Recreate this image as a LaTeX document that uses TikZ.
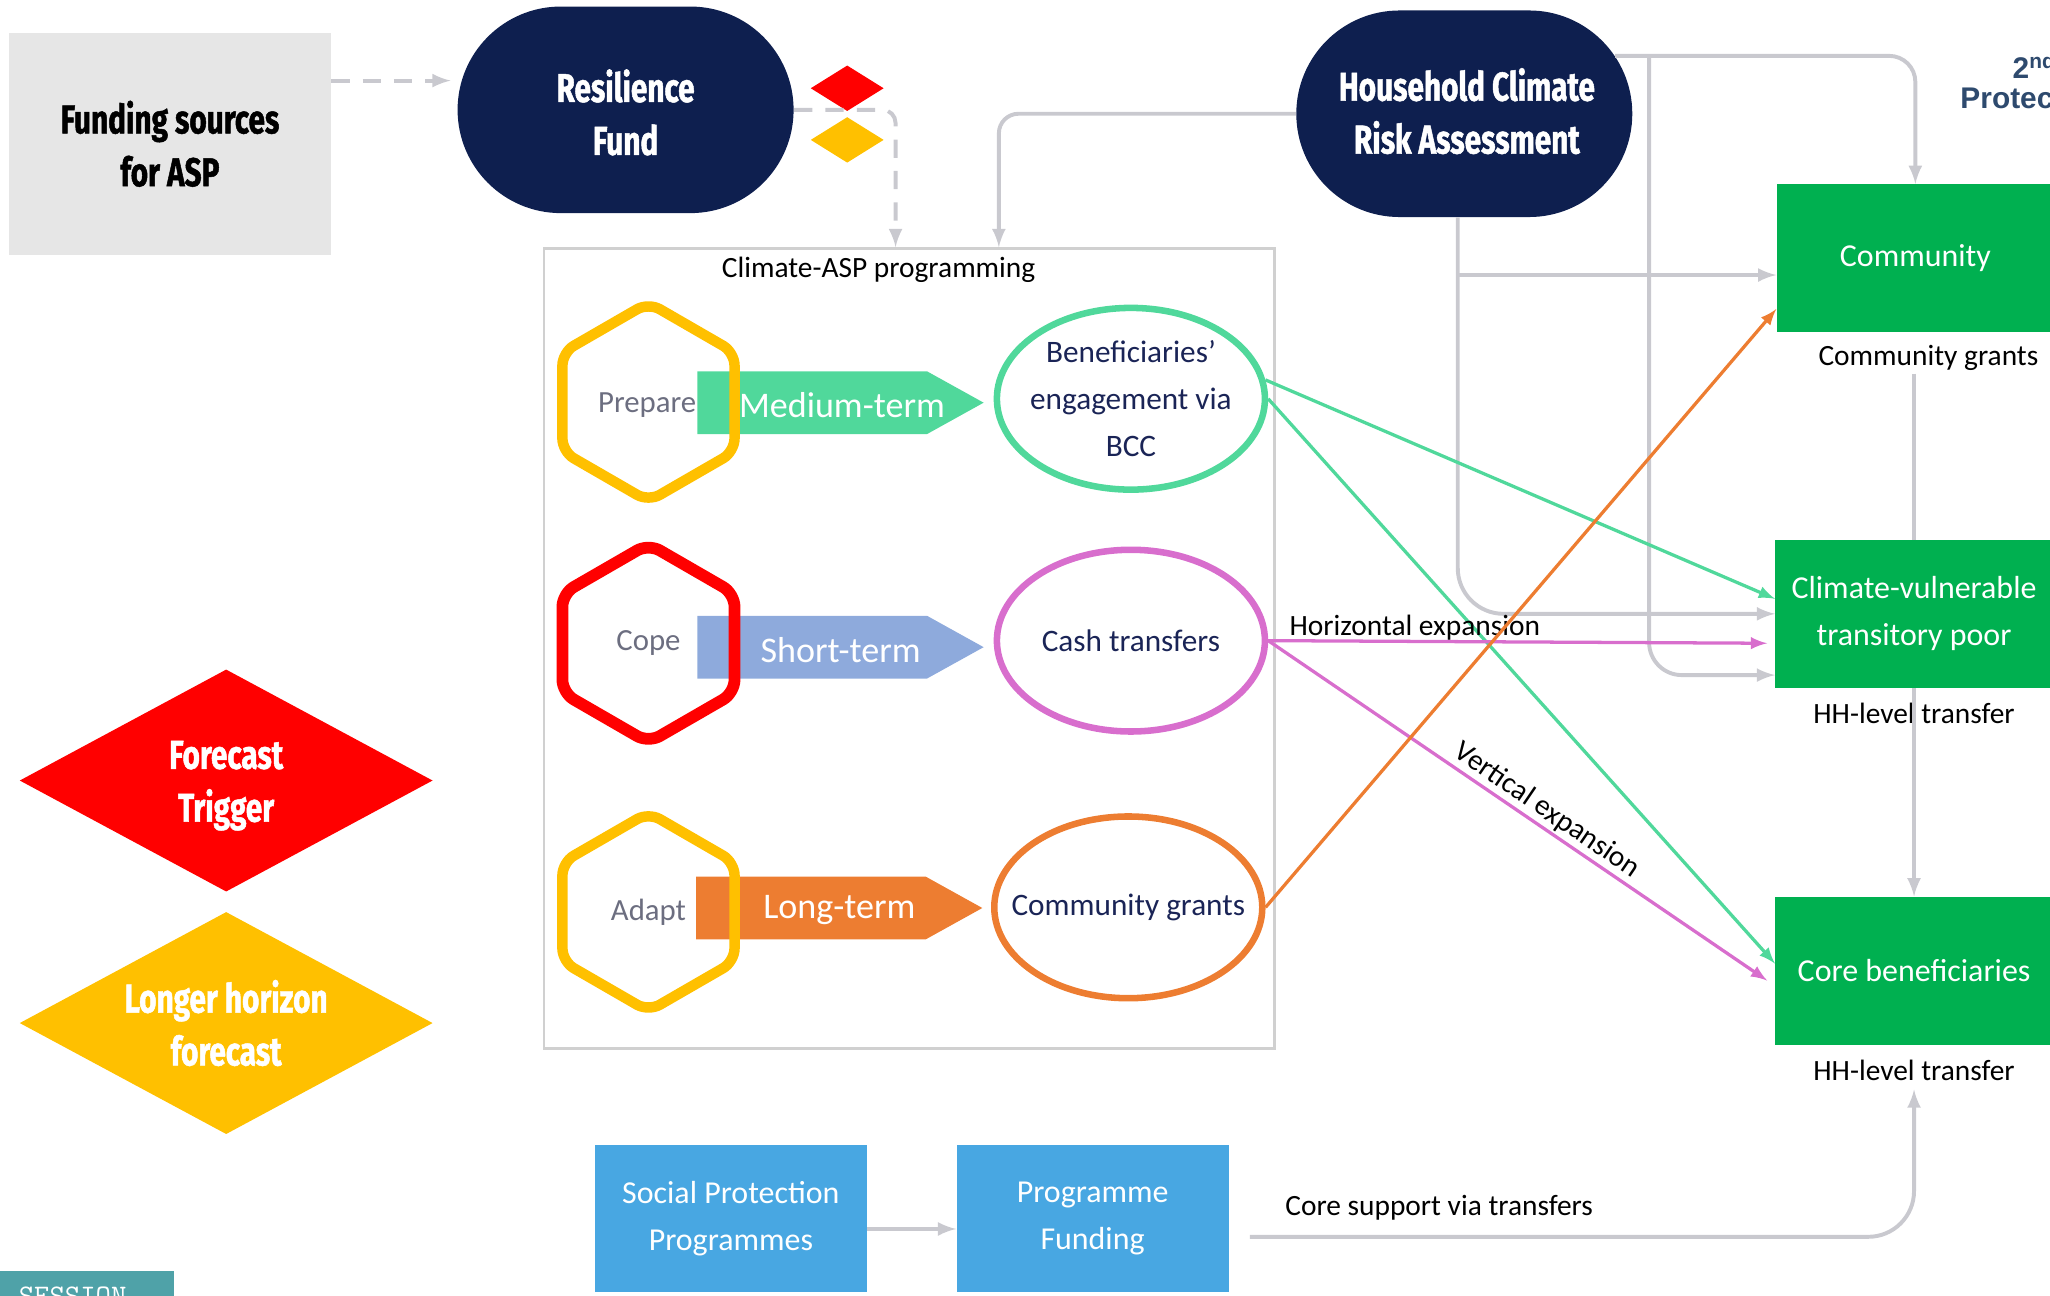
\documentclass[tikz,border=0pt]{standalone}
\usepackage{fontspec}
\setmainfont{Carlito}
\newfontfamily\headfont[FakeStretch=0.74, FakeBold=1.2]{Fira Sans}
\newfontfamily\tierfont{Liberation Sans}
\usetikzlibrary{arrows,positioning,shapes.geometric,shapes.misc,shapes.symbols}

\definecolor{navyfill}{HTML}{0E1F4F}
\definecolor{fundgray}{HTML}{E6E6E6}
\definecolor{linegray}{HTML}{C9C9CF}
\definecolor{framegray}{HTML}{D0D0D0}
\definecolor{mintgreen}{HTML}{50D89B}
\definecolor{shortblue}{HTML}{8EAADC}
\definecolor{longorange}{HTML}{ED7D31}
\definecolor{orchidpink}{HTML}{D86ECD}
\definecolor{amber}{HTML}{FFC000}
\definecolor{boxgreen}{HTML}{00B050}
\definecolor{boxblue}{HTML}{48A7E2}
\definecolor{ovaltext}{HTML}{1A2456}
\definecolor{hextext}{HTML}{6C6E80}
\definecolor{sessionteal}{HTML}{4FA2A8}
\definecolor{tierblue}{HTML}{2E4A6E}

\begin{document}
\begin{tikzpicture}[x=0.2mm, y=-0.2mm, >=latex,
  head/.style={font=\headfont\bfseries\fontsize{17.5}{23}\selectfont,
               text=white, align=center},
  pill/.style={rounded rectangle, fill=navyfill,
               minimum width=51.4mm, minimum height=31.6mm, inner sep=0pt},
  hexa/.style={regular polygon, regular polygon sides=6,
               shape border rotate=30, minimum size=30.4mm,
               line width=1.6mm, rounded corners=2mm, text=hextext,
               font=\fontsize{13.4}{16}\selectfont},
  oval/.style={ellipse, line width=1mm, minimum width=41mm,
               minimum height=27.8mm, inner sep=0pt},
  ovaltxt/.style={text=ovaltext, align=center,
               font=\fontsize{13.6}{20.5}\selectfont},
  term/.style={signal, signal to=east, signal pointer angle=58,
               minimum width=43.8mm, minimum height=9.6mm, inner sep=0pt,
               anchor=west},
  termtxt/.style={text=white, font=\fontsize{15.7}{18}\selectfont},
  greenbox/.style={rectangle, fill=boxgreen, text=white, align=center,
               minimum width=42.4mm, minimum height=22.6mm,
               font=\fontsize{13.9}{20.5}\selectfont},
  bluebox/.style={rectangle, fill=boxblue, text=white, align=center,
               minimum width=41.6mm, minimum height=22.4mm,
               font=\fontsize{13.9}{20.5}\selectfont},
  lbl/.style={text=black, inner sep=1pt, font=\fontsize{12.8}{15}\selectfont},
  conn/.style={draw=linegray, line width=0.6mm},
  flow/.style={line width=0.5mm}]

 \useasboundingbox (0,0) rectangle (1568,991);

 % Funding side
 \node[fill=fundgray,
       minimum width=49.2mm,
       minimum height=34mm,
       head, text=black] (fund) at (130,110) {Funding sources\\for ASP};
 \node[pill] (res) at (478.5,84) {};
 \node[head] (res text) at (478.5,86) {Resilience\\Fund};
 \node[diamond, fill=red, minimum width=11.2mm,
       minimum height=7mm, inner sep=0pt] (res red) at (648,67.5) {};
 \node[diamond, fill=amber, minimum width=11.2mm,
       minimum height=7mm, inner sep=0pt] (res amber) at (648,107) {};

 % Assessment
 \node[pill] (hcra) at (1120,87) {};
 \node[head] (hcra text) at (1122,85) {Household Climate\\Risk Assessment};

 % Programming frame
 \node[draw=framegray,
       line width=0.4mm,
       minimum width=111.8mm,
       minimum height=122.4mm] (prog) at (695.5,496) {};
 \node[lbl] (prog title) at (672,206) {Climate-ASP programming};

 % Rows: phase, term, instrument
 \node[term, fill=mintgreen] (medium) at (533,308) {};
 \node[termtxt] (medium text) at (644,310) {Medium-term};
 \node[hexa, draw=amber] (prepare) at (496,307.5) {};
 \node[text=hextext, font=\fontsize{13.4}{16}\selectfont] (prepare text) at (495,310) {Prepare};
 \node[oval, draw=mintgreen] (ben) at (865,305) {};
 \node[ovaltxt] (ben text) at (ben) {Beneficiaries’\\engagement via\\BCC};

 \node[term, fill=shortblue] (short) at (533,495) {};
 \node[termtxt] (short text) at (643,497) {Short-term};
 \node[hexa, draw=red, line width=1.8mm] (cope) at (496,492) {Cope};
 \node[oval, draw=orchidpink] (cash) at (865,490) {};
 \node[ovaltxt] (cash text) at (cash) {Cash transfers};

 \node[term, fill=longorange] (long) at (532,694.5) {};
 \node[termtxt] (long text) at (642,696) {Long-term};
 \node[hexa, draw=amber] (adapt) at (496,697.5) {Adapt};
 \node[oval, draw=longorange] (grant) at (863,694) {};
 \node[ovaltxt] (grant text) at (grant) {Community grants};

 % Triggers
 \node[diamond, fill=red, minimum width=63.2mm,
       minimum height=34mm, inner sep=0pt] (trigger) at (173,597) {};
 \node[head] (trigger text) at (173,601) {Forecast\\Trigger};
 \node[diamond, fill=amber, minimum width=63.2mm,
       minimum height=34mm, inner sep=0pt] (horizon) at (173,782.5) {};
 \node[head] (horizon text) at (horizon) {Longer horizon\\forecast};

 % Target groups
 \node[greenbox] (comm) at (1465,197.5) {Community};
 \node[lbl] (comm lbl) at (1475,274) {Community grants};
 \node[greenbox] (cvtp) at (1464,469.5) {Climate-vulnerable\\transitory poor};
 \node[lbl, below=1.8mm of cvtp] (cvtp lbl) {HH-level transfer};
 \node[greenbox] (core) at (1464,742.5) {Core beneficiaries};
 \node[lbl, below=1.8mm of core] (core lbl) {HH-level transfer};

 % Regular programmes
 \node[bluebox] (spp) at (559,932) {Social Protection\\Programmes};
 \node[bluebox, right=13.6mm of spp] (pf) {Programme\\Funding};
 \node[lbl, anchor=base west] (core support) at (981,930) {Core support via transfers};

 % Page furniture
 \node[font=\tierfont\bfseries\fontsize{13}{13}\selectfont,
       text=tierblue, align=center] (tier) at (1556,62) {2\textsuperscript{nd}\\Protection};
 \node[fill=sessionteal, anchor=north west, minimum width=26.6mm,
       minimum height=6mm, inner sep=0pt] (session) at (0,972) {};
 \node[anchor=north west, inner sep=0pt, text=white,
       font=\ttfamily\fontsize{13}{13}\selectfont] (session text)
       at ([xshift=2.8mm, yshift=-2.4mm]session.north west) {SESSION};

 % Gray connectors
 \coordinate (fund out) at ([yshift=-7.4mm]fund.north east);
 \coordinate (prog in a) at ([xshift=54mm]prog.north west);
 \coordinate (prog in b) at ([xshift=69.8mm]prog.north west);
 \coordinate (tap a) at ([xshift=5.2mm]hcra.21);
 \coordinate (tap b) at ([xshift=-1mm, yshift=-8.8mm]hcra.south);

 \draw[conn, dash pattern=on 2.8mm off 2mm, ->, shorten >=1mm]
     (fund out) -- (fund out -| res.west);
 \draw[conn, dash pattern=on 2.8mm off 2mm, ->, rounded corners=2mm]
     (res.east) -| (prog in a);
 \draw[conn, ->, rounded corners=3mm] (hcra.west) -| (prog in b);
 \draw[conn, ->, rounded corners=4mm] (hcra.21) -| (comm.north);
 \draw[conn, ->, rounded corners=5mm] (tap a) |- ([yshift=2mm]cvtp.south west);
 \draw[conn, ->, rounded corners=7mm] ([xshift=-1mm]hcra.south) |- (cvtp.west);
 \draw[conn, ->] (tap b) -- (tap b -| comm.west);
 \draw[conn] (comm lbl.south -| cvtp.north) -- (cvtp.north);
 \draw[conn, ->] (cvtp.south) -- (core.north);
 \draw[conn, ->] ([yshift=-1.6mm]spp.east) -- ([yshift=-1.6mm]pf.west);
 \draw[conn, ->, rounded corners=7mm, shorten >=1mm]
     ([xshift=3.2mm, yshift=-2.8mm]pf.east) -| (core lbl.south);

 % Expansion flows
 \draw[flow, mintgreen, ->] (ben.8) -- ([yshift=2.3mm]cvtp.west);
 \draw[flow, mintgreen, ->] (ben.east) -- ([yshift=1.1mm]core.west);
 \draw[flow, orchidpink, ->] (cash.east)
     -- node[lbl, pos=0.035, anchor=base west, yshift=0.8mm] {Horizontal expansion}
     ([xshift=-1.2mm, yshift=-4.5mm]cvtp.west);
 \draw[flow, orchidpink, ->] (cash.east)
     -- node[lbl, sloped, above, pos=0.54] {Vertical expansion}
     ([xshift=-1.2mm, yshift=-1.5mm]core.west);
 \draw[flow, longorange, ->] (grant.east) -- ([yshift=3.6mm]comm.south west);
\end{tikzpicture}
\end{document}
